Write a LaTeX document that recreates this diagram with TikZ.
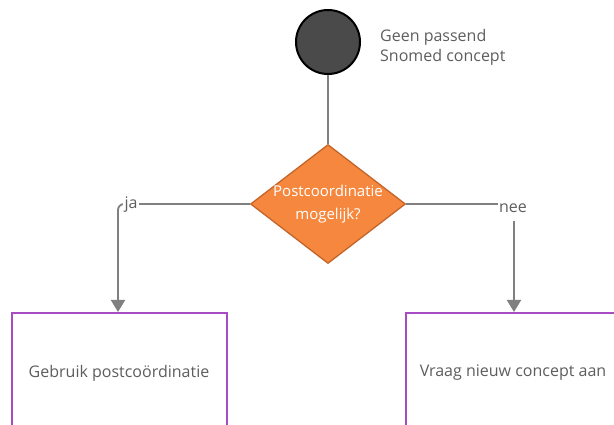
\documentclass[tikz,border=0pt]{standalone}
\usepackage{fontspec}
\setmainfont{Open Sans}
\usetikzlibrary{shapes.geometric,arrows.meta}
\definecolor{txtgray}{HTML}{5E5E5E}
\definecolor{linegray}{HTML}{808080}
\definecolor{startfill}{HTML}{4A4A4A}
\definecolor{decfill}{HTML}{F5883E}
\definecolor{decedge}{HTML}{C4642A}
\definecolor{boxedge}{HTML}{A74CC2}
\tikzset{
  lbl/.style={text=txtgray, font=\fontsize{16}{20}\selectfont, inner sep=1pt},
  startnode/.style={circle, draw=black, line width=2pt, fill=startfill, minimum size=64pt, inner sep=0pt},
  decision/.style={diamond, draw=decedge, line width=1.3pt, fill=decfill, text=white,
    font=\fontsize{15}{23}\selectfont, align=center, inner sep=-6pt,
    minimum width=155pt, minimum height=119pt, aspect=1.3},
  actionbox/.style={rectangle, draw=boxedge, line width=2pt, fill=white,
    minimum width=215pt, minimum height=140pt, anchor=north, inner sep=0pt},
  flow/.style={draw=linegray, line width=1.8pt},
  flowarrow/.style={flow, -{Triangle[length=12pt,width=14pt]}},
  branch/.style={lbl, fill=white, inner sep=1.5pt}
}
\begin{document}
\begin{tikzpicture}[x=1pt,y=-1pt]
  \useasboundingbox (0,0) rectangle (614,425);
  \clip (0,0) rectangle (614,425);
  \fill[white] (0,0) rectangle (614,425);

  % start event and its caption
  \node[startnode] (start) at (328,42) {};
  \node[lbl, anchor=west, align=left] (caption) at (379,47) {Geen passend\\Snomed concept};

  % decision
  \node[decision] (dec) at (328,204) {Postcoordinatie\\mogelijk?};

  % outcome boxes
  \node[actionbox] (use) at (119,312) {};
  \node[lbl] (usetxt) at (119,373) {Gebruik postcoördinatie};
  \node[actionbox] (ask) at (513,312) {};
  \node[lbl] (asktxt) at (513,373) {Vraag nieuw concept aan};

  % connectors
  \draw[flow] (start.south) -- (dec.north);
  \coordinate (jacorner) at (118,204);
  \coordinate (neecorner) at (514,204);
  \draw[flowarrow, rounded corners=6pt] (dec.west) -- (jacorner) -- (jacorner |- use.north);
  \draw[flowarrow] (dec.east) -- (neecorner) -- (neecorner |- ask.north);

  % branch labels
  \node[branch] (ja) at (131,205) {ja};
  \node[branch, minimum height=26pt] (nee) at (513,208) {nee};
\end{tikzpicture}
\end{document}
